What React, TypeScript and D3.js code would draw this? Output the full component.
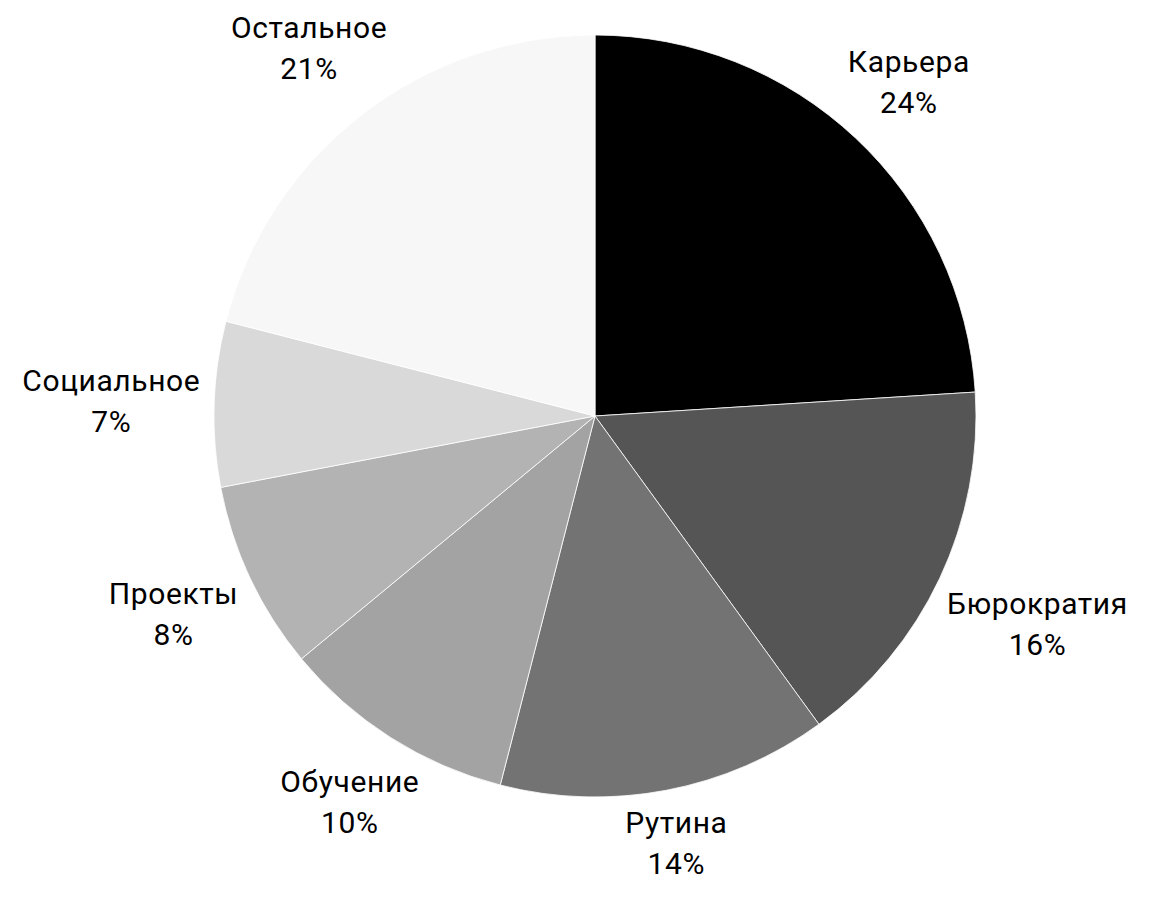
import React, { useEffect, useRef } from 'react';
import * as d3 from 'd3';

const categories = ['Карьера', 'Бюрократия', 'Рутина', 'Обучение', 'Проекты', 'Социальное', 'Остальное'];
const shares = [24, 16, 14, 10, 8, 7, 21];
const sliceColors = ['#000000', '#555555', '#737373', '#a3a3a3', '#b3b3b3', '#d9d9d9', '#f7f7f7'];

export default function App() {
  const svgRef = useRef<SVGSVGElement>(null);

  useEffect(() => {
    if (!svgRef.current) return;
    const svg = d3.select(svgRef.current);
    svg.selectAll('*').remove();

    const cx = 595;
    const cy = 416;
    const radius = 381;
    const labelRadius = 394;
    const fontSize = 30;
    const lineGap = 41;

    const pie = d3.pie<number>().sort(null).value(d => d);
    const arcs = pie(shares);
    const arc = d3.arc<d3.PieArcDatum<number>>().innerRadius(0).outerRadius(radius);

    const g = svg.append('g').attr('transform', `translate(${cx},${cy})`);

    g.selectAll('path')
      .data(arcs)
      .enter()
      .append('path')
      .attr('d', arc)
      .attr('fill', (_, i) => sliceColors[i])
      .attr('stroke', '#ffffff')
      .attr('stroke-width', 0.8);

    // labels sit radially outside the slice, pushed out by half their box
    arcs.forEach((a, i) => {
      const mid = (a.startAngle + a.endAngle) / 2;
      const sx = Math.sin(mid);
      const sy = -Math.cos(mid);

      const text = g.append('text')
        .attr('text-anchor', 'middle')
        .attr('font-family', 'Roboto, "Noto Sans", sans-serif')
        .attr('font-size', `${fontSize}px`)
        .attr('letter-spacing', '0.6px')
        .attr('fill', '#000000');
      text.append('tspan').attr('x', 0).attr('y', 0).text(categories[i]);
      text.append('tspan').attr('x', 0).attr('y', lineGap).text(`${shares[i]}%`);

      const box = (text.node() as SVGTextElement).getBBox();
      const bx = box.x + box.width / 2;
      // visual block: cap top of first line to baseline of second
      const capTop = -fontSize * 0.71;
      const by = (capTop + lineGap) / 2;
      const h = lineGap - capTop;
      const r = labelRadius + (box.width / 2) * Math.abs(sx) + (h / 2) * Math.abs(sy);
      const tx = sx * r - bx;
      const ty = sy * r - by;
      text.attr('transform', `translate(${tx},${ty})`);
    });
  }, []);

  return (
    <svg
      ref={svgRef}
      width={1149}
      height={897}
      style={{ position: 'absolute', left: 0, top: 0, background: '#ffffff' }}
    />
  );
}
